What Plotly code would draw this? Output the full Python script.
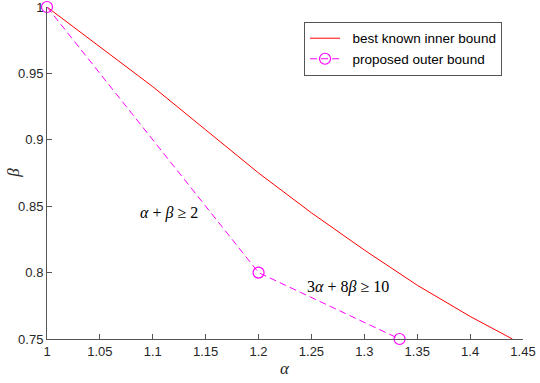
import plotly.graph_objects as go

# inner bound curve
inner_alpha = [1.00, 1.05, 1.10, 1.15, 1.20, 1.25, 1.30, 1.35, 1.40, 1.44]
inner_beta = [1.000, 0.970, 0.940, 0.9075, 0.875, 0.845, 0.817, 0.7905, 0.767, 0.750]

# proposed outer bound corner points
outer_alpha = [1.0, 1.2, 4 / 3]
outer_beta = [1.0, 0.8, 0.75]

x_ticks = [1, 1.05, 1.1, 1.15, 1.2, 1.25, 1.3, 1.35, 1.4, 1.45]
y_ticks = [0.75, 0.8, 0.85, 0.9, 0.95, 1]

serif = "Liberation Serif"
sans = "Liberation Sans"
pad = "\u00a0\u00a0"  # small lead-in so legend text sits where it does in the original

fig = go.Figure()
fig.add_trace(go.Scatter(x=inner_alpha, y=inner_beta, mode="lines",
                         name=pad + "best known inner bound",
                         line=dict(color="#ff0000", width=1)))
fig.add_trace(go.Scatter(x=outer_alpha, y=outer_beta, mode="lines+markers",
                         name=pad + "proposed outer bound",
                         line=dict(color="#ff00ff", width=1, dash="7px,4px"),
                         marker=dict(symbol="circle-open", size=11, color="#ff00ff",
                                     line=dict(width=1.2)),
                         cliponaxis=False))

fig.add_annotation(x=1.1158, y=0.845, text="<i>α</i> + <i>β</i> ≥ 2", showarrow=False,
                   font=dict(family=serif, size=16, color="#000"))
fig.add_annotation(x=1.285, y=0.789, text="3<i>α</i> + 8<i>β</i> ≥ 10", showarrow=False,
                   font=dict(family=serif, size=16, color="#000"))

# axis titles placed by hand
fig.add_annotation(xref="paper", yref="paper", x=0.5, y=-0.09, yanchor="middle",
                   text="<i>α</i>", showarrow=False,
                   font=dict(family=serif, size=17, color="#262626"))
fig.add_annotation(xref="paper", yref="paper", x=-0.072, y=0.5, xanchor="center",
                   text="<i>β</i>", showarrow=False, textangle=-90,
                   font=dict(family=serif, size=17, color="#262626"))

axis_common = dict(showgrid=False, zeroline=False, showline=True, linecolor="#555",
                   linewidth=1, ticks="inside", ticklen=5, tickcolor="#555",
                   automargin=False, ticklabeloverflow="allow",
                   tickfont=dict(family=sans, size=13, color="#262626"))

fig.update_xaxes(range=[1 - 1e-6, 1.45 + 1e-6], tickvals=x_ticks,
                 ticktext=[f"{v:g}" for v in x_ticks], **axis_common)
fig.update_yaxes(range=[0.75 - 1e-6, 1 + 1e-6], tickvals=y_ticks,
                 ticktext=[f"{v:g}" for v in y_ticks], **axis_common)

fig.update_layout(
    width=540, height=383,
    margin=dict(l=47, r=17, t=7, b=44),
    plot_bgcolor="white", paper_bgcolor="white",
    showlegend=True,
    legend=dict(x=0.54, y=0.955, xanchor="left", yanchor="top",
                bordercolor="#555", borderwidth=1, bgcolor="white",
                font=dict(family=sans, size=13.5, color="#000"),
                tracegroupgap=0, itemwidth=30),
)

# drop the default page margin so the figure sits at the window corner
fig.write_html("out.html", config={"displayModeBar": False},
               post_script="document.body.style.margin='0';")
